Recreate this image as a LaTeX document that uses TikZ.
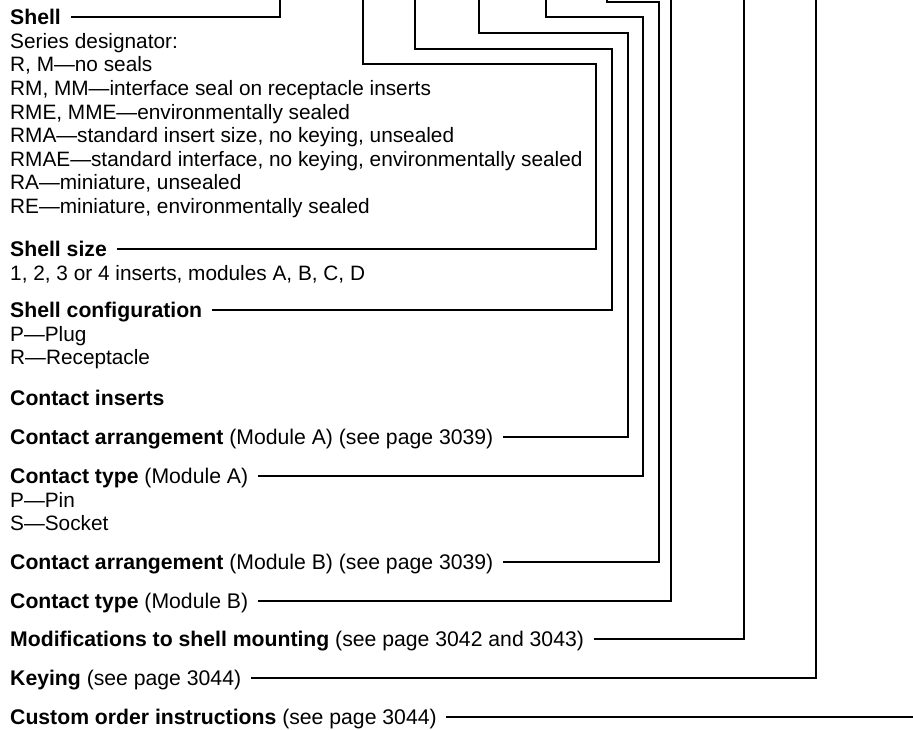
\documentclass[tikz,border=0pt]{standalone}
\usepackage{fontspec}
\setmainfont{Liberation Sans}
\usetikzlibrary{positioning}
\newcommand{\headfont}{\fontsize{21.2}{23.6}\selectfont}
\newcommand{\notefont}{\fontsize{20.8}{23.6}\selectfont}
\tikzset{
  head/.style={anchor=west,inner sep=0pt,text height=15.2pt,text depth=0pt,font=\headfont},
  desc/.style={inner sep=0pt,align=left,font=\notefont},
  leader/.style={line width=2pt,shorten <=9.5pt},
}

\begin{document}
\begin{tikzpicture}[x=1pt,y=-1pt]
  \useasboundingbox (0,0) rectangle (913,729);
  % headings and their notes
  \node[head] (shell) at (10,17) {\textbf{Shell}};
  \node[desc,below right=8.3pt and 0pt of shell.south west] (shelld) {Series designator:\\R, M—no seals\\RM, MM—interface seal on receptacle inserts\\RME, MME—environmentally sealed\\RMA—standard insert size, no keying, unsealed\\RMAE—standard interface, no keying, environmentally sealed\\RA—miniature, unsealed\\RE—miniature, environmentally sealed};
  \node[head] (size) at (10,249) {\textbf{Shell size}};
  \node[desc,below right=8.3pt and 0pt of size.south west] (sized) {1, 2, 3 or 4 inserts, modules A, B, C, D};
  \node[head] (config) at (10,310) {\textbf{Shell configuration}};
  \node[desc,below right=8.3pt and 0pt of config.south west] (configd) {P—Plug\\R—Receptacle};
  \node[head] (inserts) at (10,398) {\textbf{Contact inserts}};
  \node[head] (arra) at (10,437) {\textbf{Contact arrangement} (Module A) (see page 3039)};
  \node[head] (typea) at (10,476) {\textbf{Contact type} (Module A)};
  \node[desc,below right=8.3pt and 0pt of typea.south west] (typead) {P—Pin\\S—Socket};
  \node[head] (arrb) at (10,562) {\textbf{Contact arrangement} (Module B) (see page 3039)};
  \node[head] (typeb) at (10,601) {\textbf{Contact type} (Module B)};
  \node[head] (mods) at (10,639) {\textbf{Modifications to shell mounting} (see page 3042 and 3043)};
  \node[head] (keying) at (10,678) {\textbf{Keying} (see page 3044)};
  \node[head] (custom) at (10,717) {\textbf{Custom order instructions} (see page 3044)};
  % loose ends at the top and right edge
  \coordinate (t1) at (280,0);
  \coordinate (t2) at (363,0);
  \coordinate (t3) at (415,0);
  \coordinate (t4) at (479,0);
  \coordinate (t5) at (546,0);
  \coordinate (t6) at (607,0);
  \coordinate (t7) at (671,0);
  \coordinate (t8) at (744,0);
  \coordinate (t9) at (816,0);
  \coordinate (t10) at (913,717);
  % leaders
  \draw[leader] (shell) -| (t1);
  \draw[leader] (size) -| (596,64) -| (t2);
  \draw[leader] (config) -| (612,49) -| (t3);
  \draw[leader] (arra) -| (628,33) -| (t4);
  \draw[leader] (typea) -| (643,17) -| (t5);
  \draw[leader] (arrb) -| (659,1.5) -| (t6);
  \draw[leader] (typeb) -| (t7);
  \draw[leader] (mods) -| (t8);
  \draw[leader] (keying) -| (t9);
  \draw[leader] (custom) -- (t10);
\end{tikzpicture}
\end{document}
